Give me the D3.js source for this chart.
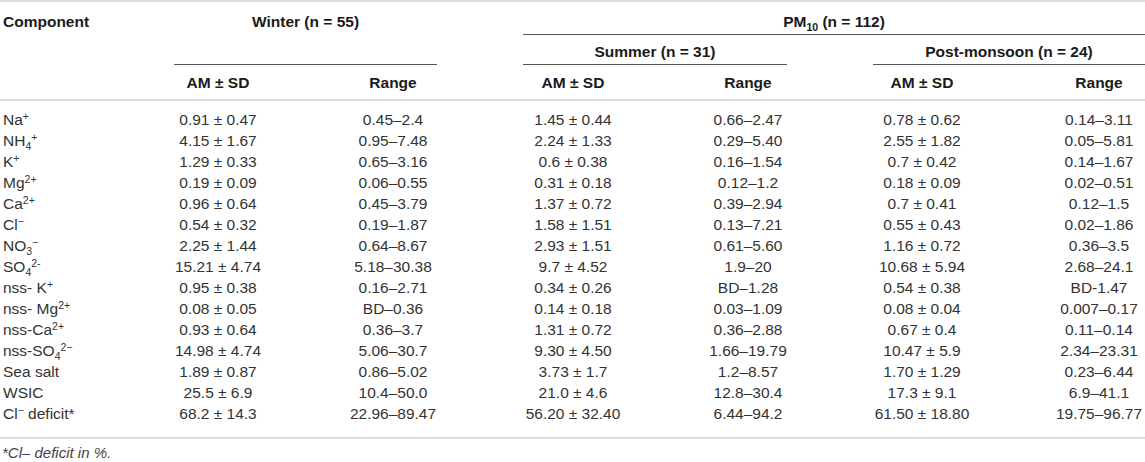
<!DOCTYPE html>
<html lang="en">
  <head>
    <meta charset="utf-8">
    <style type="text/css">
      body {
        margin: 0;
        background: white;
      }
      svg {
        font-family: "Liberation Sans", Arial, sans-serif;
      }
      .cell {
        font-size: 15.5px;
        fill: #333;
      }
      .head {
        font-size: 15.5px;
        font-weight: bold;
        fill: #1a1a1a;
      }
      .rule {
        stroke: #d0d0d0;
        stroke-width: 1.5px;
      }
      .span-rule {
        stroke: #555;
        stroke-width: 1px;
      }
    </style>
  </head>
  <body>
    <script src="https://cdn.jsdelivr.net/npm/d3@7"></script>
    <svg id="table"></svg>

    <script type="text/javascript">
// "_x" = subscript piece, "^x" = superscript piece
var components = [
  ["Na", "^+"],
  ["NH", "_4", "^+"],
  ["K", "^+"],
  ["Mg", "^2+"],
  ["Ca", "^2+"],
  ["Cl", "^\u2212"],
  ["NO", "_3", "^\u2212"],
  ["SO", "_4", "^2-"],
  ["nss- K", "^+"],
  ["nss- Mg", "^2+"],
  ["nss-Ca", "^2+"],
  ["nss-SO", "_4", "^2\u2212"],
  ["Sea salt"],
  ["WSIC"],
  ["Cl", "^\u2212", " deficit*"]
];

var winterMean = ["0.91 ± 0.47", "4.15 ± 1.67", "1.29 ± 0.33", "0.19 ± 0.09", "0.96 ± 0.64",
  "0.54 ± 0.32", "2.25 ± 1.44", "15.21 ± 4.74", "0.95 ± 0.38", "0.08 ± 0.05", "0.93 ± 0.64",
  "14.98 ± 4.74", "1.89 ± 0.87", "25.5 ± 6.9", "68.2 ± 14.3"];
var winterRange = ["0.45–2.4", "0.95–7.48", "0.65–3.16", "0.06–0.55", "0.45–3.79",
  "0.19–1.87", "0.64–8.67", "5.18–30.38", "0.16–2.71", "BD–0.36", "0.36–3.7",
  "5.06–30.7", "0.86–5.02", "10.4–50.0", "22.96–89.47"];
var summerMean = ["1.45 ± 0.44", "2.24 ± 1.33", "0.6 ± 0.38", "0.31 ± 0.18", "1.37 ± 0.72",
  "1.58 ± 1.51", "2.93 ± 1.51", "9.7 ± 4.52", "0.34 ± 0.26", "0.14 ± 0.18", "1.31 ± 0.72",
  "9.30 ± 4.50", "3.73 ± 1.7", "21.0 ± 4.6", "56.20 ± 32.40"];
var summerRange = ["0.66–2.47", "0.29–5.40", "0.16–1.54", "0.12–1.2", "0.39–2.94",
  "0.13–7.21", "0.61–5.60", "1.9–20", "BD–1.28", "0.03–1.09", "0.36–2.88",
  "1.66–19.79", "1.2–8.57", "12.8–30.4", "6.44–94.2"];
var postMean = ["0.78 ± 0.62", "2.55 ± 1.82", "0.7 ± 0.42", "0.18 ± 0.09", "0.7 ± 0.41",
  "0.55 ± 0.43", "1.16 ± 0.72", "10.68 ± 5.94", "0.54 ± 0.38", "0.08 ± 0.04", "0.67 ± 0.4",
  "10.47 ± 5.9", "1.70 ± 1.29", "17.3 ± 9.1", "61.50 ± 18.80"];
var postRange = ["0.14–3.11", "0.05–5.81", "0.14–1.67", "0.02–0.51", "0.12–1.5",
  "0.02–1.86", "0.36–3.5", "2.68–24.1", "BD-1.47", "0.007–0.17", "0.11–0.14",
  "2.34–23.31", "0.23–6.44", "6.9–41.1", "19.75–96.77"];

var columnKeys = ["wMean", "wRange", "sMean", "sRange", "pMean", "pRange"];
var columnValues = [winterMean, winterRange, summerMean, summerRange, postMean, postRange];
var columnTitles = ["AM ± SD", "Range", "AM ± SD", "Range", "AM ± SD", "Range"];

var groups = [
  { name: ["Winter (n = 55)"], from: "wMean", to: "wRange", level: 1 },
  { name: ["PM", "_10", " (n = 112)"], from: "sMean", to: "pRange", level: 0 },
  { name: ["Summer (n = 31)"], from: "sMean", to: "sRange", level: 1 },
  { name: ["Post-monsoon (n = 24)"], from: "pMean", to: "pRange", level: 1 }
];
var footnote = "*Cl– deficit in %.";

var width = 1145;
var height = 462;
var base = 5.6; // centre of digits -> baseline

var svg = d3.select("#table")
  .attr("width", width)
  .attr("height", height);

// column centres and their spans
var x = d3.scaleOrdinal()
  .domain(columnKeys)
  .range([218, 393, 573, 748, 922, 1099]);
var colLeft = d3.scaleOrdinal()
  .domain(columnKeys)
  .range([174, 305, 523, 660, 873, 1010]);
var colRight = d3.scaleOrdinal()
  .domain(columnKeys)
  .range([300, 437, 640, 787, 980, 1145]);

var y = d3.scalePoint()
  .domain(d3.range(components.length))
  .range([119, 413]);

var headY = [21, 51, 82];

// write a label that may contain sub/superscript pieces
function rich(text, parts) {
  var shift = 0;
  parts.forEach(function(p) {
    var t = text.append("tspan");
    var target = 0;
    if (p[0] === "^") { target = -5; t.style("font-size", "10.5px"); p = p.slice(1); }
    else if (p[0] === "_") { target = 4; t.style("font-size", "10.5px"); p = p.slice(1); }
    t.attr("dy", target - shift).text(p);
    shift = target;
  });
}

// horizontal rules
svg.append("line").attr("class", "rule")
  .attr("x1", 0).attr("x2", width).attr("y1", 1).attr("y2", 1);
svg.append("line").attr("class", "rule")
  .attr("x1", 0).attr("x2", width).attr("y1", 100).attr("y2", 100);
svg.append("line").attr("class", "rule")
  .attr("x1", 0).attr("x2", width).attr("y1", 438).attr("y2", 438);

// header
svg.append("text")
  .attr("class", "head")
  .attr("x", 3)
  .attr("y", headY[0] + base)
  .text("Component");

var g = svg.append("g").selectAll("g").data(groups).enter().append("g");

g.append("line")
  .attr("class", "span-rule")
  .attr("x1", function(d) { return colLeft(d.from); })
  .attr("x2", function(d) { return colRight(d.to); })
  .attr("y1", function(d) { return d.level === 0 ? 34.5 : 64.5; })
  .attr("y2", function(d) { return d.level === 0 ? 34.5 : 64.5; });

g.append("text")
  .attr("class", "head")
  .attr("text-anchor", "middle")
  .attr("x", function(d) { return (colLeft(d.from) + colRight(d.to)) / 2; })
  .attr("y", function(d) { return (d.from === "wMean" ? headY[0] : headY[d.level]) + base; })
  .each(function(d) { rich(d3.select(this), d.name); });

svg.append("g").selectAll("text").data(columnKeys).enter()
  .append("text")
  .attr("class", "head")
  .attr("text-anchor", "middle")
  .attr("x", function(d) { return x(d); })
  .attr("y", headY[2] + base)
  .text(function(d, i) { return columnTitles[i]; });

// body
var rows = svg.append("g").selectAll("g").data(components).enter()
  .append("g")
  .attr("transform", function(d, i) { return "translate(0," + (y(i) + base) + ")"; });

rows.append("text")
  .attr("class", "cell")
  .attr("x", 3)
  .each(function(d) { rich(d3.select(this), d); });

columnKeys.forEach(function(key, c) {
  rows.append("text")
    .attr("class", "cell")
    .attr("text-anchor", "middle")
    .attr("x", x(key))
    .text(function(d, i) { return columnValues[c][i]; });
});

svg.append("text")
  .attr("class", "cell")
  .attr("x", 2)
  .attr("y", 458)
  .style("font-style", "italic")
  .style("font-size", "15px")
  .style("fill", "#444")
  .text(footnote);

    </script>
  </body>
</html>
